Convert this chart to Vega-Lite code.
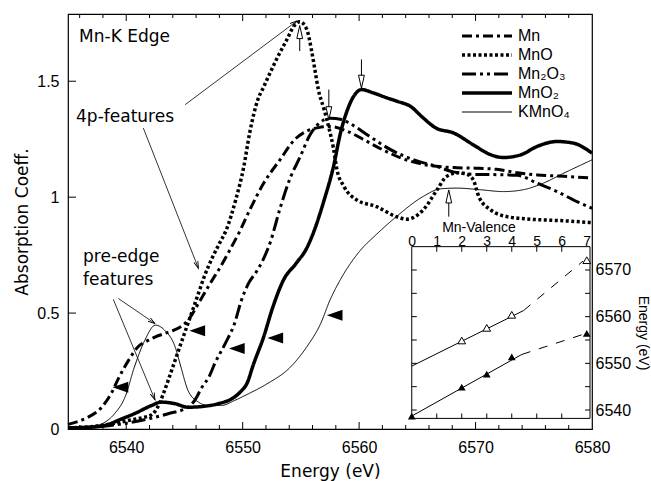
{
  "$schema": "https://vega.github.io/schema/vega-lite/v6.json",
  "width": 524,
  "height": 415,
  "autosize": "none",
  "padding": {"left": 68, "top": 14, "right": 59, "bottom": 52},
  "background": "white",
  "config": {
    "view": {"stroke": "black", "strokeWidth": 1.2},
    "axis": {"domain": false, "grid": false, "ticks": false, "labelColor": "black", "titleColor": "black", "labelFont": "Liberation Sans", "labelFontSize": 16, "titleFont": "DejaVu Sans", "titleFontSize": 17, "titleFontWeight": "normal"}
  },
  "datasets": {
    "curves": [
      {"compound":"Mn","e":6535,"a":0.02},{"compound":"Mn","e":6536,"a":0.035},{"compound":"Mn","e":6536.7,"a":0.05},{"compound":"Mn","e":6537.9,"a":0.094},{"compound":"Mn","e":6538.7,"a":0.152},{"compound":"Mn","e":6539.4,"a":0.225},{"compound":"Mn","e":6540.2,"a":0.296},{"compound":"Mn","e":6541,"a":0.354},{"compound":"Mn","e":6541.8,"a":0.38},{"compound":"Mn","e":6542.5,"a":0.397},{"compound":"Mn","e":6543.3,"a":0.412},{"compound":"Mn","e":6544.1,"a":0.426},{"compound":"Mn","e":6544.8,"a":0.445},{"compound":"Mn","e":6545.3,"a":0.469},{"compound":"Mn","e":6546.3,"a":0.55},{"compound":"Mn","e":6547.3,"a":0.635},{"compound":"Mn","e":6548.1,"a":0.7},{"compound":"Mn","e":6548.9,"a":0.772},{"compound":"Mn","e":6549.8,"a":0.858},{"compound":"Mn","e":6550.6,"a":0.944},{"compound":"Mn","e":6551.8,"a":1.06},{"compound":"Mn","e":6553.2,"a":1.161},{"compound":"Mn","e":6554.5,"a":1.25},{"compound":"Mn","e":6555.5,"a":1.285},{"compound":"Mn","e":6556.5,"a":1.3},{"compound":"Mn","e":6557.5,"a":1.305},{"compound":"Mn","e":6559,"a":1.284},{"compound":"Mn","e":6560.4,"a":1.248},{"compound":"Mn","e":6562,"a":1.205},{"compound":"Mn","e":6563.8,"a":1.165},{"compound":"Mn","e":6566,"a":1.137},{"compound":"Mn","e":6568.4,"a":1.127},{"compound":"Mn","e":6570,"a":1.125},{"compound":"Mn","e":6571.8,"a":1.12},{"compound":"Mn","e":6573.6,"a":1.105},{"compound":"Mn","e":6575.3,"a":1.096},{"compound":"Mn","e":6577.6,"a":1.09},{"compound":"Mn","e":6580,"a":1.082},
      {"compound":"MnO","e":6535,"a":0.005},{"compound":"MnO","e":6537,"a":0.01},{"compound":"MnO","e":6539,"a":0.025},{"compound":"MnO","e":6540.5,"a":0.04},{"compound":"MnO","e":6541.5,"a":0.05},{"compound":"MnO","e":6542.2,"a":0.062},{"compound":"MnO","e":6542.7,"a":0.094},{"compound":"MnO","e":6543.3,"a":0.167},{"compound":"MnO","e":6543.9,"a":0.253},{"compound":"MnO","e":6544.5,"a":0.34},{"compound":"MnO","e":6545,"a":0.412},{"compound":"MnO","e":6545.6,"a":0.498},{"compound":"MnO","e":6546.2,"a":0.585},{"compound":"MnO","e":6546.7,"a":0.657},{"compound":"MnO","e":6547.4,"a":0.74},{"compound":"MnO","e":6548,"a":0.8},{"compound":"MnO","e":6548.6,"a":0.86},{"compound":"MnO","e":6549.4,"a":0.988},{"compound":"MnO","e":6550.1,"a":1.132},{"compound":"MnO","e":6550.6,"a":1.277},{"compound":"MnO","e":6551.3,"a":1.42},{"compound":"MnO","e":6551.8,"a":1.475},{"compound":"MnO","e":6552.3,"a":1.53},{"compound":"MnO","e":6552.9,"a":1.594},{"compound":"MnO","e":6553.8,"a":1.68},{"compound":"MnO","e":6554.4,"a":1.738},{"compound":"MnO","e":6554.9,"a":1.757},{"compound":"MnO","e":6555.5,"a":1.724},{"compound":"MnO","e":6555.9,"a":1.637},{"compound":"MnO","e":6556.2,"a":1.55},{"compound":"MnO","e":6556.5,"a":1.464},{"compound":"MnO","e":6557,"a":1.377},{"compound":"MnO","e":6557.4,"a":1.3},{"compound":"MnO","e":6557.8,"a":1.21},{"compound":"MnO","e":6558.1,"a":1.118},{"compound":"MnO","e":6558.7,"a":1.046},{"compound":"MnO","e":6559.8,"a":0.988},{"compound":"MnO","e":6561.5,"a":0.959},{"compound":"MnO","e":6563.2,"a":0.916},{"compound":"MnO","e":6564.1,"a":0.905},{"compound":"MnO","e":6565.5,"a":0.945},{"compound":"MnO","e":6566.7,"a":1.032},{"compound":"MnO","e":6567.5,"a":1.089},{"compound":"MnO","e":6568.5,"a":1.105},{"compound":"MnO","e":6569.2,"a":1.1},{"compound":"MnO","e":6569.8,"a":1.075},{"compound":"MnO","e":6570.3,"a":1.0},{"compound":"MnO","e":6571.3,"a":0.945},{"compound":"MnO","e":6572.7,"a":0.916},{"compound":"MnO","e":6574.7,"a":0.905},{"compound":"MnO","e":6577.6,"a":0.898},{"compound":"MnO","e":6580,"a":0.89},
      {"compound":"Mn₂O₃","e":6535,"a":0.005},{"compound":"Mn₂O₃","e":6538,"a":0.012},{"compound":"Mn₂O₃","e":6540,"a":0.025},{"compound":"Mn₂O₃","e":6542,"a":0.045},{"compound":"Mn₂O₃","e":6543.6,"a":0.066},{"compound":"Mn₂O₃","e":6545.3,"a":0.094},{"compound":"Mn₂O₃","e":6545.9,"a":0.125},{"compound":"Mn₂O₃","e":6546.5,"a":0.18},{"compound":"Mn₂O₃","e":6547.1,"a":0.224},{"compound":"Mn₂O₃","e":6547.6,"a":0.282},{"compound":"Mn₂O₃","e":6548.5,"a":0.368},{"compound":"Mn₂O₃","e":6549.3,"a":0.455},{"compound":"Mn₂O₃","e":6549.9,"a":0.556},{"compound":"Mn₂O₃","e":6550.5,"a":0.628},{"compound":"Mn₂O₃","e":6551.2,"a":0.68},{"compound":"Mn₂O₃","e":6551.8,"a":0.735},{"compound":"Mn₂O₃","e":6552.4,"a":0.81},{"compound":"Mn₂O₃","e":6553.2,"a":0.95},{"compound":"Mn₂O₃","e":6554.1,"a":1.085},{"compound":"Mn₂O₃","e":6554.9,"a":1.17},{"compound":"Mn₂O₃","e":6555.8,"a":1.27},{"compound":"Mn₂O₃","e":6556.6,"a":1.32},{"compound":"Mn₂O₃","e":6557.5,"a":1.34},{"compound":"Mn₂O₃","e":6558.5,"a":1.335},{"compound":"Mn₂O₃","e":6559.2,"a":1.318},{"compound":"Mn₂O₃","e":6560.9,"a":1.262},{"compound":"Mn₂O₃","e":6562.7,"a":1.205},{"compound":"Mn₂O₃","e":6564.7,"a":1.161},{"compound":"Mn₂O₃","e":6566.7,"a":1.132},{"compound":"Mn₂O₃","e":6568,"a":1.11},{"compound":"Mn₂O₃","e":6570,"a":1.098},{"compound":"Mn₂O₃","e":6572,"a":1.097},{"compound":"Mn₂O₃","e":6573.6,"a":1.094},{"compound":"Mn₂O₃","e":6575.3,"a":1.06},{"compound":"Mn₂O₃","e":6577,"a":1.024},{"compound":"Mn₂O₃","e":6578.7,"a":0.981},{"compound":"Mn₂O₃","e":6580,"a":0.952},
      {"compound":"MnO₂","e":6535,"a":0.005},{"compound":"MnO₂","e":6537,"a":0.008},{"compound":"MnO₂","e":6538.5,"a":0.02},{"compound":"MnO₂","e":6539.3,"a":0.037},{"compound":"MnO₂","e":6540.7,"a":0.066},{"compound":"MnO₂","e":6542.2,"a":0.102},{"compound":"MnO₂","e":6543,"a":0.116},{"compound":"MnO₂","e":6544.2,"a":0.109},{"compound":"MnO₂","e":6545.3,"a":0.094},{"compound":"MnO₂","e":6546.7,"a":0.098},{"compound":"MnO₂","e":6547.9,"a":0.109},{"compound":"MnO₂","e":6549.3,"a":0.138},{"compound":"MnO₂","e":6549.8,"a":0.16},{"compound":"MnO₂","e":6550.4,"a":0.2},{"compound":"MnO₂","e":6550.9,"a":0.275},{"compound":"MnO₂","e":6551.8,"a":0.397},{"compound":"MnO₂","e":6552.6,"a":0.527},{"compound":"MnO₂","e":6553.5,"a":0.642},{"compound":"MnO₂","e":6554.6,"a":0.715},{"compound":"MnO₂","e":6555.5,"a":0.78},{"compound":"MnO₂","e":6556.1,"a":0.85},{"compound":"MnO₂","e":6557,"a":0.988},{"compound":"MnO₂","e":6557.8,"a":1.132},{"compound":"MnO₂","e":6558.4,"a":1.277},{"compound":"MnO₂","e":6559,"a":1.377},{"compound":"MnO₂","e":6559.6,"a":1.44},{"compound":"MnO₂","e":6560.2,"a":1.464},{"compound":"MnO₂","e":6561.2,"a":1.45},{"compound":"MnO₂","e":6562.4,"a":1.428},{"compound":"MnO₂","e":6563.3,"a":1.413},{"compound":"MnO₂","e":6564.4,"a":1.392},{"compound":"MnO₂","e":6565.5,"a":1.342},{"compound":"MnO₂","e":6566.6,"a":1.298},{"compound":"MnO₂","e":6568.1,"a":1.277},{"compound":"MnO₂","e":6569.8,"a":1.226},{"compound":"MnO₂","e":6571.3,"a":1.183},{"compound":"MnO₂","e":6572.4,"a":1.171},{"compound":"MnO₂","e":6573.9,"a":1.183},{"compound":"MnO₂","e":6575.3,"a":1.219},{"compound":"MnO₂","e":6577,"a":1.24},{"compound":"MnO₂","e":6578.4,"a":1.233},{"compound":"MnO₂","e":6580,"a":1.19},
      {"compound":"KMnO₄","e":6535,"a":0.003},{"compound":"KMnO₄","e":6537,"a":0.01},{"compound":"KMnO₄","e":6537.9,"a":0.022},{"compound":"KMnO₄","e":6539,"a":0.066},{"compound":"KMnO₄","e":6539.9,"a":0.138},{"compound":"KMnO₄","e":6540.7,"a":0.267},{"compound":"KMnO₄","e":6541.6,"a":0.383},{"compound":"KMnO₄","e":6542.5,"a":0.448},{"compound":"KMnO₄","e":6543.3,"a":0.426},{"compound":"KMnO₄","e":6544.2,"a":0.354},{"compound":"KMnO₄","e":6544.7,"a":0.267},{"compound":"KMnO₄","e":6545.3,"a":0.167},{"compound":"KMnO₄","e":6546.2,"a":0.116},{"compound":"KMnO₄","e":6547,"a":0.102},{"compound":"KMnO₄","e":6548.2,"a":0.102},{"compound":"KMnO₄","e":6549.3,"a":0.123},{"compound":"KMnO₄","e":6550.5,"a":0.152},{"compound":"KMnO₄","e":6552.1,"a":0.195},{"compound":"KMnO₄","e":6554.1,"a":0.267},{"compound":"KMnO₄","e":6555.5,"a":0.354},{"compound":"KMnO₄","e":6556.7,"a":0.455},{"compound":"KMnO₄","e":6557.5,"a":0.556},{"compound":"KMnO₄","e":6558.4,"a":0.645},{"compound":"KMnO₄","e":6559.2,"a":0.71},{"compound":"KMnO₄","e":6560.1,"a":0.77},{"compound":"KMnO₄","e":6561.5,"a":0.84},{"compound":"KMnO₄","e":6563.2,"a":0.916},{"compound":"KMnO₄","e":6565.5,"a":1.003},{"compound":"KMnO₄","e":6567,"a":1.036},{"compound":"KMnO₄","e":6568.4,"a":1.039},{"compound":"KMnO₄","e":6570.4,"a":1.032},{"compound":"KMnO₄","e":6572.4,"a":1.024},{"compound":"KMnO₄","e":6574.1,"a":1.032},{"compound":"KMnO₄","e":6575.8,"a":1.06},{"compound":"KMnO₄","e":6577.6,"a":1.104},{"compound":"KMnO₄","e":6580,"a":1.161}
    ],
    "edges": [
      {"compound":"Mn","e":6539.5,"a":0.18},{"compound":"MnO","e":6546.1,"a":0.424},{"compound":"Mn₂O₃","e":6549.5,"a":0.347},{"compound":"MnO₂","e":6552.8,"a":0.393},{"compound":"KMnO₄","e":6557.9,"a":0.491}
    ],
    "peaks": [
      {"compound":"MnO","dir":"up","e":6554.9,"tail":1.63,"head":1.712},
      {"compound":"Mn₂O₃","dir":"down","e":6557.4,"tail":1.464,"head":1.362},
      {"compound":"MnO₂","dir":"down","e":6560.2,"tail":1.594,"head":1.498},
      {"compound":"KMnO₄","dir":"up","e":6567.7,"tail":0.916,"head":1.003}
    ],
    "notes": [
      {"id":"L1","e1":6545.06,"a1":1.399,"e2":6554.66,"a2":1.76},
      {"id":"L2","e1":6541.47,"a1":1.298,"e2":6546.2,"a2":0.693},
      {"id":"P1","e1":6539.32,"a1":0.563,"e2":6542.47,"a2":0.455},
      {"id":"P2","e1":6538.89,"a1":0.559,"e2":6542.47,"a2":0.126}
    ],
    "labels": [
      {"text":"Mn-K Edge","e":6535.95,"a":1.689},
      {"text":"4p-features","e":6535.69,"a":1.347},
      {"text":"pre-edge\nfeatures","e":6536.29,"a":0.74}
    ],
    "xMajor": [{"t":6540},{"t":6550},{"t":6560},{"t":6570}],
    "xMinor": [{"t":6536},{"t":6538},{"t":6542},{"t":6544},{"t":6546},{"t":6548},{"t":6552},{"t":6554},{"t":6556},{"t":6558},{"t":6562},{"t":6564},{"t":6566},{"t":6568},{"t":6572},{"t":6574},{"t":6576},{"t":6578}],
    "yMajor": [{"t":0.5},{"t":1},{"t":1.5}],
    "insetBox": [{"v1":0,"v2":7.13,"e1":6538.2,"e2":6575}],
    "insetV": [{"t":1},{"t":2},{"t":3},{"t":4},{"t":5},{"t":6}],
    "insetE": [{"t":6540},{"t":6545},{"t":6550},{"t":6555},{"t":6560},{"t":6565},{"t":6570}],
    "fitSolid": [
      {"series":"4p","v1":0,"e1":6549.4,"v2":4.47,"e2":6561.3},
      {"series":"edge","v1":0,"e1":6538.7,"v2":4.4,"e2":6551.9}
    ],
    "fitDashed": [
      {"series":"4p","v1":4.47,"e1":6561.3,"v2":6.85,"e2":6571.9},
      {"series":"edge","v1":4.4,"e1":6551.9,"v2":6.85,"e2":6556.2}
    ],
    "peak4p": [{"v":2,"e":6554.9},{"v":3,"e":6557.6},{"v":4,"e":6560.4},{"v":7,"e":6572.1}],
    "edgePos": [{"v":0,"e":6538.7},{"v":2,"e":6544.9},{"v":3,"e":6547.7},{"v":4,"e":6551.4},{"v":7,"e":6556.4}]
  },
  "resolve": {"scale": {"x": "independent", "y": "independent"}, "axis": {"x": "independent", "y": "independent"}},
  "layer": [
    {
      "layer": [
        {
          "data": {"name": "curves"},
          "mark": {"type": "line", "interpolate": "monotone", "color": "black"},
          "encoding": {
            "x": {"field": "e", "type": "quantitative", "scale": {"domain": [6535, 6580], "nice": false, "zero": false},
              "axis": {"orient": "bottom", "values": [6540, 6550, 6560, 6570, 6580], "format": "d", "labelPadding": 10, "labelFlush": false, "title": "Energy (eV)", "titleX": 262, "titleY": 42, "titleBaseline": "middle", "titleAlign": "center", "zindex": 1}},
            "y": {"field": "a", "type": "quantitative", "scale": {"domain": [0, 1.79], "nice": false, "zero": false},
              "axis": {"orient": "left", "values": [0, 0.5, 1, 1.5], "format": "~g", "labelPadding": 9, "title": "Absorption Coeff.", "titleX": -46, "titleY": 207.5, "titleAngle": 270, "titleBaseline": "middle", "titleAlign": "center", "zindex": 1}},
            "strokeDash": {"field": "compound", "type": "nominal",
              "scale": {"domain": ["Mn", "MnO", "Mn₂O₃", "MnO₂", "KMnO₄"], "range": [[10, 4, 3, 4], [3, 2.5], [14, 4, 3, 4, 3, 4], [1, 0], [1, 0]]},
              "legend": {"title": null, "orient": "none", "legendX": 392, "legendY": 14, "symbolType": "stroke", "symbolSize": 2500, "symbolStrokeColor": "black", "clipHeight": 16, "rowPadding": 3, "labelFont": "Liberation Sans", "labelFontSize": 16, "labelColor": "black", "labelOffset": 4, "padding": 0}},
            "strokeWidth": {"field": "compound", "type": "ordinal",
              "scale": {"type": "ordinal", "domain": ["Mn", "MnO", "Mn₂O₃", "MnO₂", "KMnO₄"], "range": [3, 3.5, 3, 3.5, 1]},
              "legend": {"title": null, "orient": "none", "legendX": 392, "legendY": 14, "symbolType": "stroke", "symbolSize": 2500, "symbolStrokeColor": "black", "clipHeight": 16, "rowPadding": 3, "labelFont": "Liberation Sans", "labelFontSize": 16, "labelColor": "black", "labelOffset": 4, "padding": 0}}
          }
        },
        {
          "data": {"name": "xMajor"},
          "mark": {"type": "tick", "orient": "vertical", "size": 7, "thickness": 1, "yOffset": -3.5, "color": "black", "opacity": 1},
          "encoding": {
            "x": {"field": "t", "type": "quantitative", "scale": {"domain": [6535, 6580], "nice": false, "zero": false}},
            "y": {"datum": 0, "type": "quantitative", "scale": {"domain": [0, 1.79], "nice": false, "zero": false}}
          }
        },
        {
          "data": {"name": "xMinor"},
          "mark": {"type": "tick", "orient": "vertical", "size": 4, "thickness": 1, "yOffset": -2, "color": "black", "opacity": 1},
          "encoding": {
            "x": {"field": "t", "type": "quantitative", "scale": {"domain": [6535, 6580], "nice": false, "zero": false}},
            "y": {"datum": 0, "type": "quantitative", "scale": {"domain": [0, 1.79], "nice": false, "zero": false}}
          }
        },
        {
          "data": {"name": "xMajor"},
          "mark": {"type": "tick", "orient": "vertical", "size": 7, "thickness": 1, "yOffset": 3.5, "color": "black", "opacity": 1},
          "encoding": {
            "x": {"field": "t", "type": "quantitative", "scale": {"domain": [6535, 6580], "nice": false, "zero": false}},
            "y": {"datum": 1.79, "type": "quantitative", "scale": {"domain": [0, 1.79], "nice": false, "zero": false}}
          }
        },
        {
          "data": {"name": "xMinor"},
          "mark": {"type": "tick", "orient": "vertical", "size": 4, "thickness": 1, "yOffset": 2, "color": "black", "opacity": 1},
          "encoding": {
            "x": {"field": "t", "type": "quantitative", "scale": {"domain": [6535, 6580], "nice": false, "zero": false}},
            "y": {"datum": 1.79, "type": "quantitative", "scale": {"domain": [0, 1.79], "nice": false, "zero": false}}
          }
        },
        {
          "data": {"name": "yMajor"},
          "mark": {"type": "tick", "orient": "horizontal", "size": 8, "thickness": 1, "xOffset": 4, "color": "black", "opacity": 1},
          "encoding": {
            "x": {"datum": 6535, "type": "quantitative", "scale": {"domain": [6535, 6580], "nice": false, "zero": false}},
            "y": {"field": "t", "type": "quantitative", "scale": {"domain": [0, 1.79], "nice": false, "zero": false}}
          }
        },
        {
          "data": {"name": "edges"},
          "mark": {"type": "point", "shape": "M-1,0L1,-0.7L1,0.7Z", "filled": true, "color": "black", "size": 246, "opacity": 1},
          "encoding": {
            "x": {"field": "e", "type": "quantitative", "scale": {"domain": [6535, 6580], "nice": false, "zero": false}},
            "y": {"field": "a", "type": "quantitative", "scale": {"domain": [0, 1.79], "nice": false, "zero": false}}
          }
        },
        {
          "data": {"name": "peaks"},
          "mark": {"type": "rule", "color": "black", "strokeWidth": 1},
          "encoding": {
            "x": {"field": "e", "type": "quantitative", "scale": {"domain": [6535, 6580], "nice": false, "zero": false}},
            "y": {"field": "tail", "type": "quantitative", "scale": {"domain": [0, 1.79], "nice": false, "zero": false}},
            "y2": {"field": "head"}
          }
        },
        {
          "data": {"name": "peaks"},
          "transform": [{"filter": "datum.dir == 'up'"}],
          "mark": {"type": "point", "shape": "M0,-1L0.45,1L-0.45,1Z", "filled": true, "fill": "white", "stroke": "black", "strokeWidth": 1, "size": 169, "opacity": 1},
          "encoding": {
            "x": {"field": "e", "type": "quantitative", "scale": {"domain": [6535, 6580], "nice": false, "zero": false}},
            "y": {"field": "head", "type": "quantitative", "scale": {"domain": [0, 1.79], "nice": false, "zero": false}}
          }
        },
        {
          "data": {"name": "peaks"},
          "transform": [{"filter": "datum.dir == 'down'"}],
          "mark": {"type": "point", "shape": "M0,1L0.45,-1L-0.45,-1Z", "filled": true, "fill": "white", "stroke": "black", "strokeWidth": 1, "size": 169, "opacity": 1},
          "encoding": {
            "x": {"field": "e", "type": "quantitative", "scale": {"domain": [6535, 6580], "nice": false, "zero": false}},
            "y": {"field": "head", "type": "quantitative", "scale": {"domain": [0, 1.79], "nice": false, "zero": false}}
          }
        },
        {
          "data": {"name": "notes"},
          "mark": {"type": "rule", "color": "black", "strokeWidth": 0.8},
          "encoding": {
            "x": {"field": "e1", "type": "quantitative", "scale": {"domain": [6535, 6580], "nice": false, "zero": false}},
            "y": {"field": "a1", "type": "quantitative", "scale": {"domain": [0, 1.79], "nice": false, "zero": false}},
            "x2": {"field": "e2"},
            "y2": {"field": "a2"}
          }
        },
        {
          "data": {"name": "notes"},
          "transform": [{"filter": "datum.id == 'L1'"}],
          "mark": {"type": "point", "shape": "M-0.3,1L0,0L0.3,1", "filled": false, "stroke": "black", "strokeWidth": 0.9, "size": 196, "angle": 53.3, "opacity": 1},
          "encoding": {
            "x": {"field": "e2", "type": "quantitative", "scale": {"domain": [6535, 6580], "nice": false, "zero": false}},
            "y": {"field": "a2", "type": "quantitative", "scale": {"domain": [0, 1.79], "nice": false, "zero": false}}
          }
        },
        {
          "data": {"name": "notes"},
          "transform": [{"filter": "datum.id == 'L2'"}],
          "mark": {"type": "point", "shape": "M-0.3,1L0,0L0.3,1", "filled": false, "stroke": "black", "strokeWidth": 0.9, "size": 196, "angle": 158.6, "opacity": 1},
          "encoding": {
            "x": {"field": "e2", "type": "quantitative", "scale": {"domain": [6535, 6580], "nice": false, "zero": false}},
            "y": {"field": "a2", "type": "quantitative", "scale": {"domain": [0, 1.79], "nice": false, "zero": false}}
          }
        },
        {
          "data": {"name": "notes"},
          "transform": [{"filter": "datum.id == 'P1'"}],
          "mark": {"type": "point", "shape": "M-0.3,1L0,0L0.3,1", "filled": false, "stroke": "black", "strokeWidth": 0.9, "size": 196, "angle": 124.3, "opacity": 1},
          "encoding": {
            "x": {"field": "e2", "type": "quantitative", "scale": {"domain": [6535, 6580], "nice": false, "zero": false}},
            "y": {"field": "a2", "type": "quantitative", "scale": {"domain": [0, 1.79], "nice": false, "zero": false}}
          }
        },
        {
          "data": {"name": "notes"},
          "transform": [{"filter": "datum.id == 'P2'"}],
          "mark": {"type": "point", "shape": "M-0.3,1L0,0L0.3,1", "filled": false, "stroke": "black", "strokeWidth": 0.9, "size": 196, "angle": 157.4, "opacity": 1},
          "encoding": {
            "x": {"field": "e2", "type": "quantitative", "scale": {"domain": [6535, 6580], "nice": false, "zero": false}},
            "y": {"field": "a2", "type": "quantitative", "scale": {"domain": [0, 1.79], "nice": false, "zero": false}}
          }
        },
        {
          "data": {"name": "labels"},
          "mark": {"type": "text", "align": "left", "baseline": "middle", "font": "DejaVu Sans", "fontSize": 17, "color": "black", "lineBreak": "\n", "lineHeight": 23},
          "encoding": {
            "x": {"field": "e", "type": "quantitative", "scale": {"domain": [6535, 6580], "nice": false, "zero": false}},
            "y": {"field": "a", "type": "quantitative", "scale": {"domain": [0, 1.79], "nice": false, "zero": false}},
            "text": {"field": "text"}
          }
        }
      ]
    },
    {
      "layer": [
        {
          "data": {"name": "insetBox"},
          "mark": {"type": "rect", "fill": "white", "stroke": "black", "strokeWidth": 1},
          "encoding": {
            "x": {"field": "v1", "type": "quantitative", "scale": {"domain": [-13.75, 7.21], "nice": false, "zero": false},
              "axis": {"orient": "top", "offset": -232.7, "values": [0, 1, 2, 3, 4, 5, 6, 7], "format": "d", "labelPadding": 1, "labelBaseline": "alphabetic", "labelFontSize": 14, "title": "Mn-Valence", "titleFont": "Liberation Sans", "titleFontSize": 14, "titleX": 410.5, "titleY": -15.5, "titleBaseline": "alphabetic", "titleAlign": "center", "zindex": 1}},
            "x2": {"field": "v2"},
            "y": {"field": "e1", "type": "quantitative", "scale": {"domain": [6535.93, 6624.85], "nice": false, "zero": false},
              "axis": {"orient": "right", "values": [6540, 6550, 6560, 6570], "format": "d", "labelPadding": 3, "title": "Energy (eV)", "titleFont": "Liberation Sans", "titleFontSize": 14, "titleAngle": 90, "titleX": 50, "titleY": 318.5, "titleAlign": "center", "titleBaseline": "middle", "zindex": 1}},
            "y2": {"field": "e2"}
          }
        },
        {
          "data": {"name": "insetV"},
          "mark": {"type": "tick", "orient": "vertical", "size": 5, "thickness": 1, "yOffset": 2.5, "color": "black", "opacity": 1},
          "encoding": {
            "x": {"field": "t", "type": "quantitative", "scale": {"domain": [-13.75, 7.21], "nice": false, "zero": false}},
            "y": {"datum": 6575, "type": "quantitative", "scale": {"domain": [6535.93, 6624.85], "nice": false, "zero": false}}
          }
        },
        {
          "data": {"name": "insetV"},
          "mark": {"type": "tick", "orient": "vertical", "size": 5, "thickness": 1, "yOffset": -2.5, "color": "black", "opacity": 1},
          "encoding": {
            "x": {"field": "t", "type": "quantitative", "scale": {"domain": [-13.75, 7.21], "nice": false, "zero": false}},
            "y": {"datum": 6538.2, "type": "quantitative", "scale": {"domain": [6535.93, 6624.85], "nice": false, "zero": false}}
          }
        },
        {
          "data": {"name": "insetE"},
          "mark": {"type": "tick", "orient": "horizontal", "size": 5, "thickness": 1, "xOffset": 2.5, "color": "black", "opacity": 1},
          "encoding": {
            "x": {"datum": 0, "type": "quantitative", "scale": {"domain": [-13.75, 7.21], "nice": false, "zero": false}},
            "y": {"field": "t", "type": "quantitative", "scale": {"domain": [6535.93, 6624.85], "nice": false, "zero": false}}
          }
        },
        {
          "data": {"name": "insetE"},
          "mark": {"type": "tick", "orient": "horizontal", "size": 5, "thickness": 1, "xOffset": -2.5, "color": "black", "opacity": 1},
          "encoding": {
            "x": {"datum": 7.13, "type": "quantitative", "scale": {"domain": [-13.75, 7.21], "nice": false, "zero": false}},
            "y": {"field": "t", "type": "quantitative", "scale": {"domain": [6535.93, 6624.85], "nice": false, "zero": false}}
          }
        },
        {
          "data": {"name": "fitSolid"},
          "mark": {"type": "rule", "color": "black", "strokeWidth": 1},
          "encoding": {
            "x": {"field": "v1", "type": "quantitative", "scale": {"domain": [-13.75, 7.21], "nice": false, "zero": false}},
            "x2": {"field": "v2"},
            "y": {"field": "e1", "type": "quantitative", "scale": {"domain": [6535.93, 6624.85], "nice": false, "zero": false}},
            "y2": {"field": "e2"}
          }
        },
        {
          "data": {"name": "fitDashed"},
          "mark": {"type": "rule", "color": "black", "strokeWidth": 1, "strokeDash": [9, 9]},
          "encoding": {
            "x": {"field": "v1", "type": "quantitative", "scale": {"domain": [-13.75, 7.21], "nice": false, "zero": false}},
            "x2": {"field": "v2"},
            "y": {"field": "e1", "type": "quantitative", "scale": {"domain": [6535.93, 6624.85], "nice": false, "zero": false}},
            "y2": {"field": "e2"}
          }
        },
        {
          "data": {"name": "peak4p"},
          "mark": {"type": "point", "shape": "triangle-up", "filled": true, "fill": "white", "stroke": "black", "strokeWidth": 1, "size": 60, "opacity": 1},
          "encoding": {
            "x": {"field": "v", "type": "quantitative", "scale": {"domain": [-13.75, 7.21], "nice": false, "zero": false}},
            "y": {"field": "e", "type": "quantitative", "scale": {"domain": [6535.93, 6624.85], "nice": false, "zero": false}}
          }
        },
        {
          "data": {"name": "edgePos"},
          "mark": {"type": "point", "shape": "triangle-up", "filled": true, "color": "black", "size": 60, "opacity": 1},
          "encoding": {
            "x": {"field": "v", "type": "quantitative", "scale": {"domain": [-13.75, 7.21], "nice": false, "zero": false}},
            "y": {"field": "e", "type": "quantitative", "scale": {"domain": [6535.93, 6624.85], "nice": false, "zero": false}}
          }
        }
      ]
    }
  ]
}
